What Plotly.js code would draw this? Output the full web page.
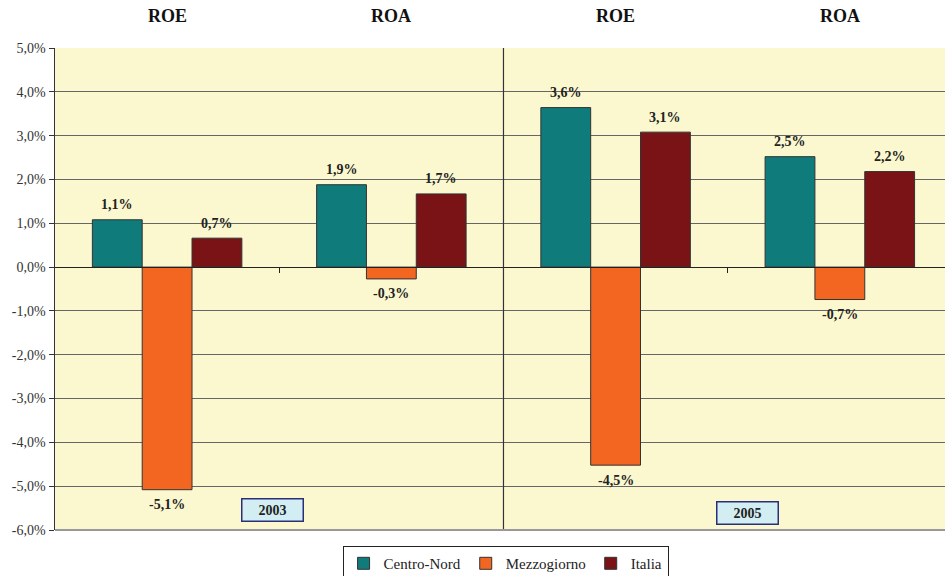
<!DOCTYPE html>
<html><head><meta charset="utf-8">
<script src="https://cdn.plot.ly/plotly-3.0.1.min.js"></script>
<style>html,body{margin:0;padding:0;background:#fff;}#c{width:945px;height:576px;}</style>
</head><body><div id="c"></div>
<script>
var indicators = ["ROE", "ROA", "ROE", "ROA"];
var years = ["2003", "2005"];
var seriesNames = ["Centro-Nord", "Mezzogiorno", "Italia"];
var centroNord = [1.08, 1.88, 3.64, 2.52];
var mezzogiorno = [-5.08, -0.27, -4.52, -0.74];
var italia = [0.66, 1.67, 3.08, 2.18];
var yTickVals = [5, 4, 3, 2, 1, 0, -1, -2, -3, -4, -5, -6];
var yTickText = ["5,0%", "4,0%", "3,0%", "2,0%", "1,0%", "0,0%", "-1,0%", "-2,0%", "-3,0%", "-4,0%", "-5,0%", "-6,0%"];
var colors = ["#0f7b7b", "#f36621", "#7a1316"];

var serif = "'Liberation Serif', 'DejaVu Serif', serif";
var xpos = indicators.map(function(_, i){ return i; });
var allSeries = [centroNord, mezzogiorno, italia];

var traces = allSeries.map(function(vals, s){
  return {
    type: "bar", name: seriesNames[s], x: xpos, y: vals,
    marker: {color: colors[s], line: {color: "#333", width: 1}},
    hoverinfo: "y"
  };
});

var annotations = [];
var barW = (1 - 1/3) / 3;
allSeries.forEach(function(vals, s){
  vals.forEach(function(v, i){
    annotations.push({
      x: i + (s - 1) * barW, y: v, xref: "x", yref: "y",
      text: "<b>" + v.toFixed(1).replace(".", ",") + "%</b>",
      showarrow: false, yshift: v >= 0 ? 15 : -15,
      font: {family: serif, size: 14, color: "#222"}
    });
  });
});
indicators.forEach(function(t, i){
  annotations.push({
    x: i, y: 1, xref: "x", yref: "paper", yanchor: "bottom", yshift: 20,
    text: "<b>" + t + "</b>", showarrow: false,
    font: {family: serif, size: 18, color: "#111"}
  });
});
annotations.push({
  x: 0.47, y: -5.55, xref: "x", yref: "y", text: "<b>" + years[0] + "</b>",
  showarrow: false, bgcolor: "#d2eef3", bordercolor: "#2b2f7a", borderwidth: 1.5,
  borderpad: 3, width: 54, font: {family: serif, size: 14, color: "#222"}
});
annotations.push({
  x: 2.59, y: -5.62, xref: "x", yref: "y", text: "<b>" + years[1] + "</b>",
  showarrow: false, bgcolor: "#d2eef3", bordercolor: "#2b2f7a", borderwidth: 1.5,
  borderpad: 3, width: 54, font: {family: serif, size: 14, color: "#222"}
});

var layout = {
  width: 945, height: 576,
  margin: {l: 55, r: 0, t: 48, b: 46},
  paper_bgcolor: "#ffffff", plot_bgcolor: "#fbf8d0",
  barmode: "group", bargap: 1/3, bargroupgap: 0,
  showlegend: true,
  legend: {orientation: "h", x: 0.535, xanchor: "center", xref: "container",
    y: 0.052, yanchor: "top", yref: "container",
    bordercolor: "#222", borderwidth: 1, bgcolor: "#fff",
    font: {family: serif, size: 15, color: "#222"}, itemwidth: 30,
    traceorder: "normal"},
  xaxis: {range: [-0.5, 3.469], showgrid: false, zeroline: false,
    tickvals: [0.5, 1.5, 2.5], ticktext: ["", "", ""], ticks: "outside", ticklen: 5,
    tickcolor: "#222", showline: true, linecolor: "#222", linewidth: 1.2,
    anchor: "free", position: 6/11, fixedrange: true},
  yaxis: {range: [-6, 5], tickmode: "array", tickvals: yTickVals, ticktext: yTickText,
    showgrid: true, gridcolor: "#666", gridwidth: 1, zeroline: false,
    showline: true, linecolor: "#333", linewidth: 1.5, ticks: "outside", ticklen: 5,
    tickcolor: "#333", tickfont: {family: serif, size: 14, color: "#333"}},
  shapes: [
    {type: "line", xref: "x", yref: "paper", x0: 1.5, x1: 1.5, y0: 0, y1: 1,
     line: {color: "#333", width: 1.2}},
    {type: "line", xref: "paper", yref: "paper", x0: 0, x1: 1, y0: 0, y1: 0,
     line: {color: "#999", width: 2}}
  ],
  annotations: annotations
};

Plotly.newPlot("c", traces, layout, {displayModeBar: false, staticPlot: true});
</script></body></html>
